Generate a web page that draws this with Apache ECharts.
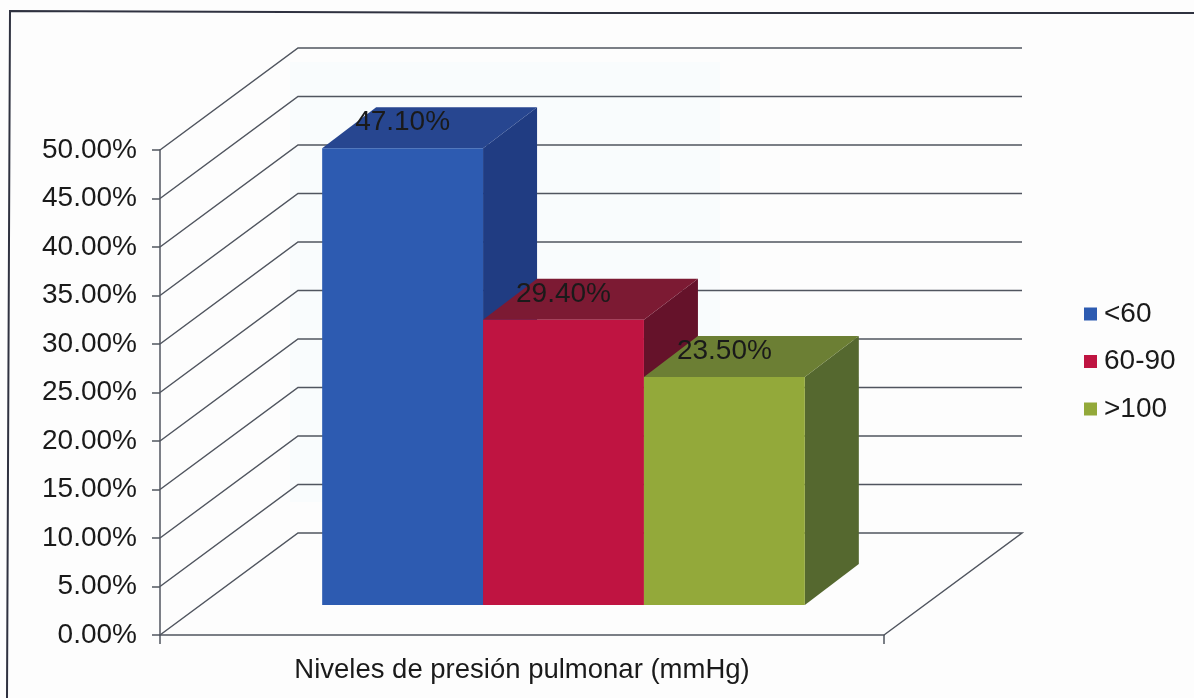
<!DOCTYPE html>
<html>
<head>
<meta charset="utf-8">
<style>
  html, body { margin: 0; padding: 0; background: #fdfdfd; }
  #chart { width: 1194px; height: 698px; }
</style>
<script src="https://cdn.jsdelivr.net/npm/echarts@6/dist/echarts.min.js"></script>
</head>
<body>
<div id="chart"></div>
<script>
var categories = ['<60', '60-90', '>100'];
var values = [0.471, 0.294, 0.235];
var yTicks = [0, 0.05, 0.1, 0.15, 0.2, 0.25, 0.3, 0.35, 0.4, 0.45, 0.5];
var frontColors = ['#2d5bb1', '#bf1441', '#93a93a'];
var topColors = ['#274690', '#7c1a33', '#6c7f34'];
var sideColors = ['#203c82', '#65122a', '#55682f'];

var myChart = echarts.init(document.getElementById('chart'));

var wallDx = 138, wallDy = -102; // floor depth
var barDx = 54, barDy = -41; // bar depth
var gapX = 41.5, gapY = 30; // bars sit this far behind the front edge

function percent(v) {
	return (v * 100).toFixed(2) + '%';
}

function renderWall(params, api) {
	var p = api.coord([0, api.value(0)]);
	var w = api.size([1, 0])[0];
	var left = p[0] - w / 2;
	var points = [
		[left, p[1]],
		[left + wallDx, p[1] + wallDy],
		[left + w + wallDx, p[1] + wallDy]
	];
	if (api.value(0) === 0) {
		points.push([left + w, p[1]]);
	}
	return {
		type: 'polyline',
		shape: { points: points },
		style: { fill: 'none', stroke: '#50555f', lineWidth: 1.5 }
	};
}

function makeRenderBar(idx) {
	return function (params, api) {
		var top = api.coord([0, api.value(1)]);
		var base = api.coord([0, 0]);
		var band = api.size([1, 0])[0];
		// gap width 150%: 3 bars + 1.5 bar widths of gap
		var bw = band / (categories.length + 1.5);
		var x0 = top[0] - band / 2 + bw * 0.75 + bw * idx + gapX;
		var x1 = x0 + bw;
		var y0 = top[1] - gapY;
		var y1 = base[1] - gapY;
		return {
			type: 'group',
			children: [
				{
					type: 'polygon',
					shape: { points: [ [x1, y0], [x1 + barDx, y0 + barDy], [x1 + barDx, y1 + barDy], [x1, y1] ] },
					style: { fill: sideColors[idx] }
				},
				{
					type: 'polygon',
					shape: { points: [ [x0, y0], [x0 + barDx, y0 + barDy], [x1 + barDx, y0 + barDy], [x1, y0] ] },
					style: { fill: topColors[idx] }
				},
				{
					type: 'rect',
					shape: { x: x0, y: y0, width: bw, height: y1 - y0 },
					style: { fill: frontColors[idx] }
				},
				{
					type: 'text',
					style: {
						x: (x0 + x1) / 2,
						y: y0 - 26,
						text: percent(api.value(1)),
						fill: '#1a1a1a',
						font: '28px "Liberation Sans"',
						align: 'center',
						verticalAlign: 'middle'
					}
				}
			]
		};
	};
}

var seriesOption = [
	{
		name: 'walls',
		type: 'custom',
		silent: true,
		coordinateSystem: 'cartesian2d',
		renderItem: renderWall,
		encode: { y: 0 },
		data: yTicks.map(function (v) { return [v]; }),
		z: 1
	}
];
categories.forEach(function (name, i) {
	seriesOption.push({
		name: name,
		type: 'custom',
		coordinateSystem: 'cartesian2d',
		renderItem: makeRenderBar(i),
		encode: { x: 0, y: 1 },
		itemStyle: { color: frontColors[i] },
		data: [ [0, values[i]] ],
		z: 2 + i
	});
});

var option = {
	animation: false,
	backgroundColor: '#fdfdfd',
	textStyle: { fontFamily: '"Liberation Sans"' },
	grid: { left: 160, right: 310, top: 150, bottom: 63, outerBoundsMode: 'none' },
	graphic: {
		elements: [
			{
				// faint show-through of the scanned page
				type: 'rect',
				silent: true,
				z: -1,
				shape: { x: 290, y: 62, width: 430, height: 440 },
				style: { fill: '#f9fcfd' }
			},
			{
				type: 'polyline',
				silent: true,
				shape: { points: [ [7, 698], [10, 11], [560, 13], [1194, 13] ] },
				style: { fill: 'none', stroke: '#2f3240', lineWidth: 2 }
			}
		]
	},
	legend: {
		data: categories,
		orient: 'vertical',
		left: 1079,
		top: 295,
		icon: 'rect',
		itemWidth: 13,
		itemHeight: 13,
		itemGap: 19.5,
		textStyle: { fontSize: 28, color: '#1a1a1a', fontFamily: '"Liberation Sans"', padding: [0, 0, 0, 2] },
		selectedMode: false
	},
	xAxis: {
		type: 'category',
		data: [''],
		name: 'Niveles de presión pulmonar (mmHg)',
		nameLocation: 'middle',
		nameGap: 21,
		nameTextStyle: { fontSize: 27.5, color: '#1a1a1a' },
		axisLine: { lineStyle: { color: '#50555f', width: 1.5 } },
		axisTick: { show: true, length: 9, lineStyle: { color: '#50555f', width: 1.5 } },
		axisLabel: { show: false }
	},
	yAxis: {
		type: 'value',
		min: 0,
		max: 0.5,
		interval: 0.05,
		splitLine: { show: false },
		axisLine: { show: true, lineStyle: { color: '#50555f', width: 1.5 } },
		axisTick: { show: true, length: 8, lineStyle: { color: '#50555f', width: 1.5 } },
		axisLabel: {
			fontSize: 28,
			color: '#1a1a1a',
			margin: 23,
			formatter: percent
		}
	},
	series: seriesOption
};
myChart.setOption(option);
</script>
</body>
</html>
